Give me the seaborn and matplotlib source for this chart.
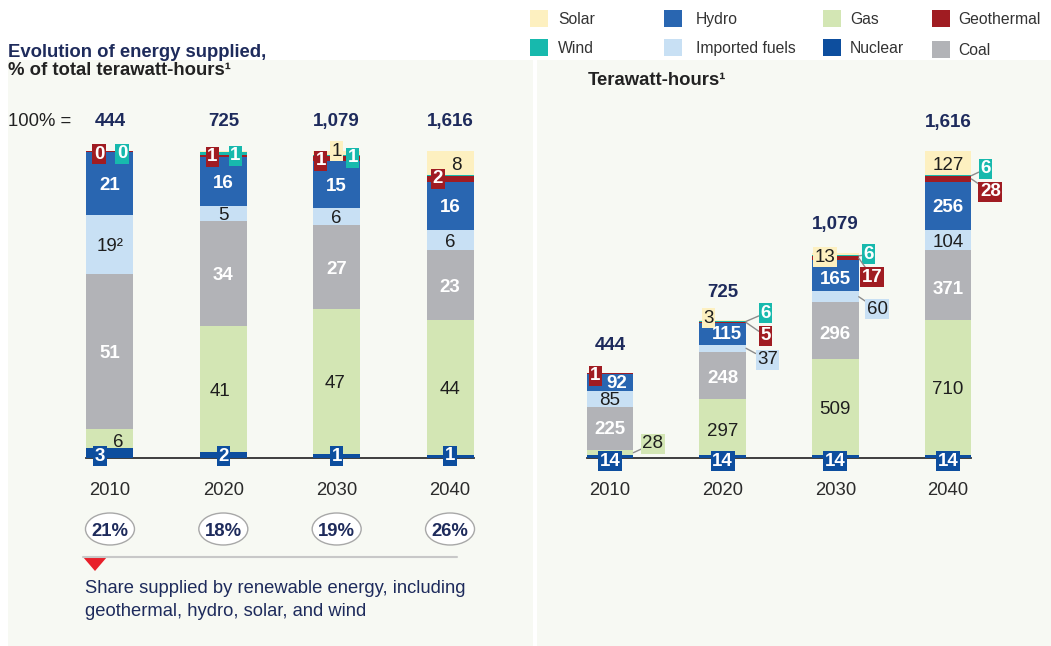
import matplotlib
matplotlib.use('Agg')
import matplotlib.pyplot as plt
import matplotlib.patches as mpatches
import matplotlib.lines as mlines
import numpy as np
import seaborn as sns

YEARS = ['2010', '2020', '2030', '2040']
SOURCES = ['Nuclear', 'Gas', 'Coal', 'Imported fuels', 'Hydro', 'Geothermal', 'Wind', 'Solar']

# terawatt-hours by source, stacked bottom to top
NUCLEAR = [14, 14, 14, 14]
GAS = [28, 297, 509, 710]
COAL = [225, 248, 296, 371]
IMPORTED = [85, 37, 60, 104]
HYDRO = [92, 115, 165, 256]
GEOTHERMAL = [1, 5, 17, 28]
WIND = [0, 6, 6, 6]
SOLAR = [0, 3, 13, 127]
TOTAL_LABELS = ['444', '725', '1,079', '1,616']

# percentage labels printed on the left chart
PCT_NUCLEAR = ['3', '2', '1', '1']
PCT_GAS = ['6', '41', '47', '44']
PCT_COAL = ['51', '34', '27', '23']
PCT_IMPORTED = ['19²', '5', '6', '6']
PCT_HYDRO = ['21', '16', '15', '16']
PCT_GEOTHERMAL = ['0', '1', '1', '2']
PCT_WIND = ['0', '1', '1', '']
PCT_SOLAR = ['', '', '1', '8']
RENEWABLE_SHARE = ['21%', '18%', '19%', '26%']

TWH = dict(zip(SOURCES, [NUCLEAR, GAS, COAL, IMPORTED, HYDRO, GEOTHERMAL, WIND, SOLAR]))
PCT = dict(zip(SOURCES, [PCT_NUCLEAR, PCT_GAS, PCT_COAL, PCT_IMPORTED, PCT_HYDRO,
                         PCT_GEOTHERMAL, PCT_WIND, PCT_SOLAR]))

COLORS = {'Nuclear': '#0d4e9e', 'Gas': '#d3e6b4', 'Coal': '#b2b3b7',
          'Imported fuels': '#c8e0f4', 'Hydro': '#2966b1', 'Geothermal': '#a01c22',
          'Wind': '#17b9ad', 'Solar': '#fdf0c0'}
NAVY = '#1e2b5c'
DARK = '#1e1e1e'
PANEL = '#f7f9f3'
TEXT_STYLE = {'Nuclear': ('white', 'bold'), 'Gas': (DARK, 'normal'), 'Coal': ('white', 'bold'),
              'Imported fuels': (DARK, 'normal'), 'Hydro': ('white', 'bold'),
              'Geothermal': ('white', 'bold'), 'Wind': ('white', 'bold'), 'Solar': (DARK, 'normal')}

# label placement: (year index, source, dx px, dy px, boxed, leader line)
LEFT_SPECS = [
    (0, 'Geothermal', -11, -1, True, False), (0, 'Wind', 12, -1, True, False),
    (0, 'Hydro', 0, 0, False, False), (0, 'Imported fuels', 0, 0, False, False),
    (0, 'Coal', 0, 0, False, False), (0, 'Gas', 8, -2, False, False),
    (0, 'Nuclear', -10, -1, True, False),
    (1, 'Geothermal', -11, 1, True, False), (1, 'Wind', 12, 0, True, False),
    (1, 'Hydro', 0, 0, False, False), (1, 'Imported fuels', 0, 0, False, False),
    (1, 'Coal', 0, 0, False, False), (1, 'Gas', -3, 0, False, False),
    (1, 'Nuclear', 0, 1, True, False),
    (2, 'Geothermal', -16, 0, True, False), (2, 'Solar', 0, 3.5, True, False),
    (2, 'Wind', 16, 0, True, False), (2, 'Hydro', 0, 0, False, False),
    (2, 'Imported fuels', 0, 0, False, False), (2, 'Coal', 0, 0, False, False),
    (2, 'Gas', -2, 0, False, False), (2, 'Nuclear', 0, 2, True, False),
    (3, 'Solar', 6, 0, False, False), (3, 'Geothermal', -12, 2, True, False),
    (3, 'Hydro', 0, 0, False, False), (3, 'Imported fuels', 0, 0, False, False),
    (3, 'Coal', 0, 0, False, False), (3, 'Gas', 0, 0, False, False),
    (3, 'Nuclear', 0, 3, True, False),
]
RIGHT_SPECS = [
    (0, 'Geothermal', -14.5, 0, True, False), (0, 'Hydro', 7, 1, False, False),
    (0, 'Imported fuels', 0, 1, False, False), (0, 'Coal', 0, 1.5, False, False),
    (0, 'Gas', 19.5, 11, True, True), (0, 'Nuclear', 0, -2.7, True, False),
    (1, 'Solar', -14, 4.5, True, False), (1, 'Wind', 19.5, 10.4, True, True),
    (1, 'Geothermal', 19.5, -11.5, True, True), (1, 'Hydro', 4, 1, False, False),
    (1, 'Imported fuels', 21.5, -9.7, True, True), (1, 'Coal', 0, -1.6, False, False),
    (1, 'Gas', 0, -2, False, False), (1, 'Nuclear', 0, -2.7, True, False),
    (2, 'Solar', -10, -1, True, False), (2, 'Wind', 10, 3.4, True, True),
    (2, 'Geothermal', 13.5, -17, True, True), (2, 'Hydro', 0, -1.7, False, False),
    (2, 'Imported fuels', 18.5, -10.3, True, True), (2, 'Coal', 0, -1.5, False, False),
    (2, 'Gas', 0, -1, False, False), (2, 'Nuclear', 0, -2.7, True, False),
    (3, 'Solar', 0, 0, False, False), (3, 'Wind', 14, 8.7, True, True),
    (3, 'Geothermal', 19, -11, True, True), (3, 'Hydro', 0, 0, False, False),
    (3, 'Imported fuels', 0, 0, False, False), (3, 'Coal', 0, -2, False, False),
    (3, 'Gas', 0, 0, False, False), (3, 'Nuclear', 0, -2.7, True, False),
]

W, H = 1051, 646
BAR_W = 0.415
LABEL_FS = 13.5


def fx(px):
    return px / W


def fy(py):
    return 1 - py / H


def draw_stack(ax, heights):
    bottom = np.zeros(len(YEARS))
    mids = {}
    for src in SOURCES:
        vals = np.asarray(heights[src], dtype=float)
        sns.barplot(x=YEARS, y=vals, bottom=bottom.copy(), color=COLORS[src],
                    saturation=1, width=BAR_W, errorbar=None, linewidth=0, ax=ax)
        mids[src] = bottom + vals / 2
        bottom = bottom + vals
    return mids, bottom


def put_label(ax, i, src, text, y, dx, dy, boxed, leader):
    if not text:
        return
    tc, wt = TEXT_STYLE[src]
    x = i + (BAR_W / 2 if leader else 0)
    kw = dict(xy=(x, y), xytext=(dx, dy), textcoords='offset pixels', ha='center',
              va='center_baseline', color=tc, fontweight=wt, fontsize=LABEL_FS,
              annotation_clip=False, zorder=5)
    if boxed:
        kw['bbox'] = dict(boxstyle='square,pad=0.08', fc=COLORS[src], ec='none')
    if leader:
        kw['arrowprops'] = dict(arrowstyle='-', color='#8c8c8c', lw=1, shrinkA=0, shrinkB=0)
    ax.annotate(text, **kw)


def style_axes(ax, top):
    ax.set_xlim(-0.5, 3.5)
    ax.set_ylim(0, top)
    ax.set_xlabel('')
    ax.set_ylabel('')
    ax.set_yticks([])
    ax.patch.set_visible(False)
    for side in ['left', 'right', 'top']:
        ax.spines[side].set_visible(False)
    sp = ax.spines['bottom']
    sp.set_bounds(-BAR_W / 2, 3 + BAR_W / 2)
    sp.set_color('#2f2f2f')
    sp.set_linewidth(1.3)
    sp.set_zorder(0.5)
    ax.tick_params(axis='x', length=0, pad=17, labelsize=13.3, labelcolor='#2b2b2b')


sns.set_theme(style='white')
plt.rcParams['font.family'] = ['Liberation Sans', 'DejaVu Sans']

fig = plt.figure(figsize=(W / 100, H / 100), dpi=100)
fig.patch.set_facecolor('white')

for x0, x1 in [(8, 533), (537, 1051)]:
    fig.add_artist(mpatches.Rectangle((fx(x0), 0), fx(x1) - fx(x0), fy(60),
                                      transform=fig.transFigure, fc=PANEL, ec='none',
                                      zorder=-10))

ax_l = fig.add_axes([fx(53.3), fy(458), (506.7 - 53.3) / W, 307 / H])
ax_r = fig.add_axes([fx(553.7), fy(458), (1004.3 - 553.7) / W, 307 / H])

# left: shares of each year's total
col_sum = np.sum([TWH[s] for s in SOURCES], axis=0)
shares = {s: np.asarray(TWH[s]) / col_sum * 100 for s in SOURCES}
mids_l, top_l = draw_stack(ax_l, shares)
style_axes(ax_l, 100)
for i, src, dx, dy, boxed, leader in LEFT_SPECS:
    put_label(ax_l, i, src, PCT[src][i], mids_l[src][i], dx, dy, boxed, leader)
for i, lbl in enumerate(TOTAL_LABELS):
    ax_l.annotate(lbl, xy=(i, 100), xytext=(0, 25), textcoords='offset pixels',
                  ha='center', va='baseline', fontsize=13.5, fontweight='bold',
                  color=NAVY, annotation_clip=False)

# renewable share ellipses below the years
x_px = (506.7 - 53.3) / 4
y_px = 307 / 100
for i, share in enumerate(RENEWABLE_SHARE):
    ax_l.add_patch(mpatches.Ellipse((i, -71 / y_px), 49 / x_px, 32 / y_px, fc='white',
                                    ec='#a8a8a8', lw=1, clip_on=False, zorder=4))
    ax_l.text(i, -71 / y_px, share, ha='center', va='center_baseline', fontsize=13.3,
              fontweight='bold', color=NAVY, zorder=5, clip_on=False)

# right: terawatt-hours
mids_r, top_r = draw_stack(ax_r, TWH)
style_axes(ax_r, 1616)
for i, src, dx, dy, boxed, leader in RIGHT_SPECS:
    put_label(ax_r, i, src, str(TWH[src][i]), mids_r[src][i], dx, dy, boxed, leader)
for i, lbl in enumerate(TOTAL_LABELS):
    ax_r.annotate(lbl, xy=(i, top_r[i]), xytext=(0, 30), textcoords='offset pixels',
                  ha='center', va='center_baseline', fontsize=13.5, fontweight='bold',
                  color=NAVY, annotation_clip=False)

# titles
fig.text(fx(8), fy(57), 'Evolution of energy supplied,', fontsize=13.3, fontweight='bold',
         color=NAVY, va='baseline')
fig.text(fx(8), fy(75), '% of total terawatt-hours¹', fontsize=13.3, fontweight='bold',
         color='#222222', va='baseline')
fig.text(fx(8), fy(126), '100% =', fontsize=13.3, color='#222222', va='baseline')
fig.text(fx(588), fy(85), 'Terawatt-hours¹', fontsize=13.3, fontweight='bold',
         color='#222222', va='baseline')

# legend
LEGEND_ORDER = ['Solar', 'Wind', 'Hydro', 'Imported fuels', 'Gas', 'Nuclear', 'Geothermal', 'Coal']
sw_x = [530, 664, 823, 932]
tx_x = [558, 696, 850, 958]
row_y = [18, 47]
for k, src in enumerate(LEGEND_ORDER):
    c, r = divmod(k, 2)
    yc = row_y[r] + (2 if src == 'Coal' else 0)
    fig.add_artist(mpatches.Rectangle((fx(sw_x[c]), fy(yc + 8.5)), 18 / W, 17 / H,
                                      transform=fig.transFigure, fc=COLORS[src], ec='none'))
    fig.text(fx(tx_x[c]), fy(yc), src, fontsize=11.3, color='#333333', va='center_baseline')

# renewable footnote marker
fig.add_artist(mlines.Line2D([fx(83), fx(457)], [fy(557), fy(557)], color='#c8c8c8', lw=1.5,
                             transform=fig.transFigure))
fig.add_artist(mpatches.Polygon([(fx(83), fy(557)), (fx(107), fy(557)), (fx(95), fy(571))],
                                closed=True, fc='#e8202a', ec='none', transform=fig.transFigure))
fig.text(fx(85), fy(593), 'Share supplied by renewable energy, including', fontsize=13.2,
         color=NAVY, va='baseline')
fig.text(fx(85), fy(616), 'geothermal, hydro, solar, and wind', fontsize=13.2,
         color=NAVY, va='baseline')

fig.savefig('out.png', dpi=100)
